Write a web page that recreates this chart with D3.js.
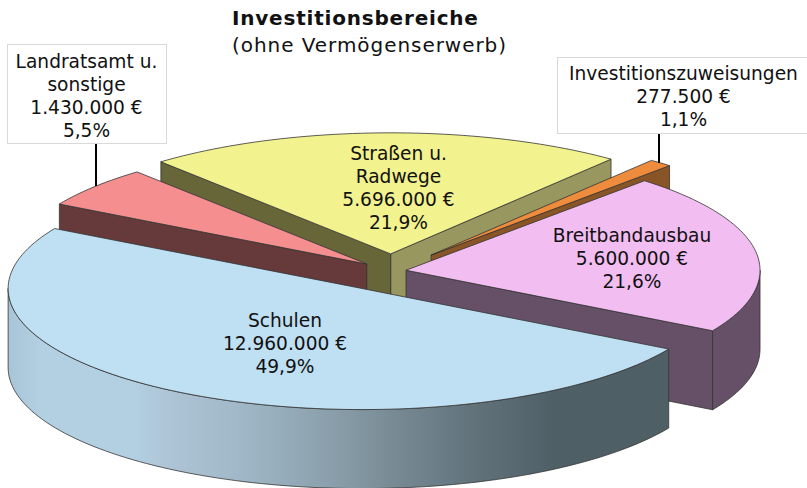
<!DOCTYPE html>
<html>
<head>
<meta charset="utf-8">
<script src="https://cdn.jsdelivr.net/npm/d3@7"></script>
<style>
  html, body { margin: 0; padding: 0; background: #fff; }
  svg { display: block; }
  text { font-family: "DejaVu Sans", sans-serif; fill: #111; }
</style>
</head>
<body>
<div id="chart"></div>
<script>
// values
const categories = ["Schulen", "Landratsamt u. sonstige", "Straßen u. Radwege", "Investitionszuweisungen", "Breitbandausbau"];
const amounts = [12960000, 1430000, 5696000, 277500, 5600000];
const amountLabels = ["12.960.000 €", "1.430.000 €", "5.696.000 €", "277.500 €", "5.600.000 €"];
const percentLabels = ["49,9%", "5,5%", "21,9%", "1,1%", "21,6%"];
const nameLines = [["Schulen"], ["Landratsamt u.", "sonstige"], ["Straßen u.", "Radwege"], ["Investitionszuweisungen"], ["Breitbandausbau"]];

// look of each slice, same order as above
const explode = [59, 32, 50, 61, 14.7];
const topColors = ["#bfdff2", "#f58f8f", "#f2f28f", "#ee8b3c", "#f2bef2"];
const wallColors = ["url(#schulenWall)", "#663a3a", "#666639", "#8a5526", "#665068"];
const rightWallColor = "#97975f";
const labelX = [285, 86.5, 398.5, 683.5, 632];
const labelY = [327, 68, 160, 80, 242];

const width = 807, height = 488;
const cx = 391.5, cy = 271, rx = 354, tilt = 0.342, depth = 79;
const rad = Math.PI / 180;

const svg = d3.select("#chart").append("svg")
    .attr("width", width)
    .attr("height", height);

const grad = svg.append("defs").append("linearGradient")
    .attr("id", "schulenWall")
    .attr("gradientUnits", "userSpaceOnUse")
    .attr("x1", 8).attr("x2", 668).attr("y1", 0).attr("y2", 0);
[[0, "#a8c5d8"], [0.05, "#b3d0e3"], [0.185, "#b3d0e3"], [0.245, "#aec4d6"], [0.35, "#a0b8c8"],
  [0.49, "#8a9fab"], [0.594, "#768992"], [0.7, "#62737c"], [0.83, "#4f5f66"], [1, "#4f5f66"]].forEach(s => {
  grad.append("stop").attr("offset", s[0]).attr("stop-color", s[1]);
});

const pie = d3.pie().sort(null)
    .startAngle(120 * rad)
    .endAngle(480 * rad);
const slices = pie(amounts);

// radius scales: pie radius -> pixels on screen
const scaleX = d3.scaleLinear().domain([0, 1]).range([0, rx]);
const scaleY = d3.scaleLinear().domain([0, 1]).range([0, rx * tilt]);
const line = d3.line().x(d => d[0]).y(d => d[1]);

function apex(i) {
  const mid = (slices[i].startAngle + slices[i].endAngle) / 2;
  return [cx + explode[i] * Math.sin(mid), cy - explode[i] * Math.cos(mid) * tilt];
}

function rim(a, angle, dz) {
  return [a[0] + scaleX(Math.sin(angle)), a[1] - scaleY(Math.cos(angle)) + dz];
}

function arcPoints(a, from, to, dz) {
  const n = Math.max(2, Math.ceil(Math.abs(to - from) / (rad * 1.5)));
  return d3.range(n + 1).map(k => rim(a, from + (to - from) * k / n, dz));
}

function shape(points, fill) {
  svg.append("path")
      .attr("d", line(points) + "Z")
      .attr("fill", fill)
      .attr("stroke", "#333")
      .attr("stroke-width", 0.8)
      .attr("stroke-linejoin", "round");
}

function radialWall(a, angle, fill) {
  shape([a, rim(a, angle, 0), rim(a, angle, depth), [a[0], a[1] + depth]], fill);
}

// back to front
[2, 1, 3, 4, 0].forEach(i => {
  const s = slices[i], a = apex(i);
  // only the parts of the rim between 90 and 270 degrees face the viewer
  if (i === 2) {
    radialWall(a, s.endAngle, rightWallColor);
    radialWall(a, s.startAngle, wallColors[2]);
  } else if (i === 1) {
    radialWall(a, s.startAngle, wallColors[1]);
  } else if (i === 3) {
    radialWall(a, s.endAngle, wallColors[3]);
  } else if (i === 4) {
    radialWall(a, s.endAngle, wallColors[4]);
    const to = s.endAngle, from = 2 * Math.PI + 90 * rad;
    shape(arcPoints(a, from, to, 0).concat(arcPoints(a, to, from, depth)), wallColors[4]);
  } else {
    const from = s.startAngle, to = 270 * rad;
    shape(arcPoints(a, from, to, 0).concat(arcPoints(a, to, from, depth)), wallColors[0]);
  }
  shape([a].concat(arcPoints(a, s.startAngle, s.endAngle, 0)), topColors[i]);
});

// title
svg.append("text").attr("x", 232).attr("y", 25)
    .style("font-size", "20px").style("font-weight", "bold").style("letter-spacing", "0.8px")
    .text("Investitionsbereiche");
svg.append("text").attr("x", 232).attr("y", 52)
    .style("font-size", "20px").style("letter-spacing", "0.95px")
    .text("(ohne Vermögenserwerb)");

// boxes with leader lines for the two small slices
svg.append("rect").attr("x", 7.5).attr("y", 44.5).attr("width", 159).attr("height", 99)
    .attr("fill", "#fff").attr("stroke", "#d9d9d9");
svg.append("rect").attr("x", 557.5).attr("y", 57.5).attr("width", 260).attr("height", 76)
    .attr("fill", "#fff").attr("stroke", "#d9d9d9");
svg.append("line").attr("x1", 96).attr("x2", 96).attr("y1", 144).attr("y2", 186)
    .attr("stroke", "#000").attr("stroke-width", 2);
svg.append("line").attr("x1", 659).attr("x2", 659).attr("y1", 134).attr("y2", 163)
    .attr("stroke", "#000").attr("stroke-width", 2);

// slice labels
categories.forEach((c, i) => {
  const lines = nameLines[i].concat([amountLabels[i], percentLabels[i]]);
  svg.append("text")
      .attr("text-anchor", "middle")
      .style("font-size", "18.6px")
      .selectAll("tspan")
      .data(lines)
      .join("tspan")
      .attr("x", labelX[i])
      .attr("y", (d, k) => labelY[i] + k * 23)
      .text(d => d);
});
</script>
</body>
</html>
